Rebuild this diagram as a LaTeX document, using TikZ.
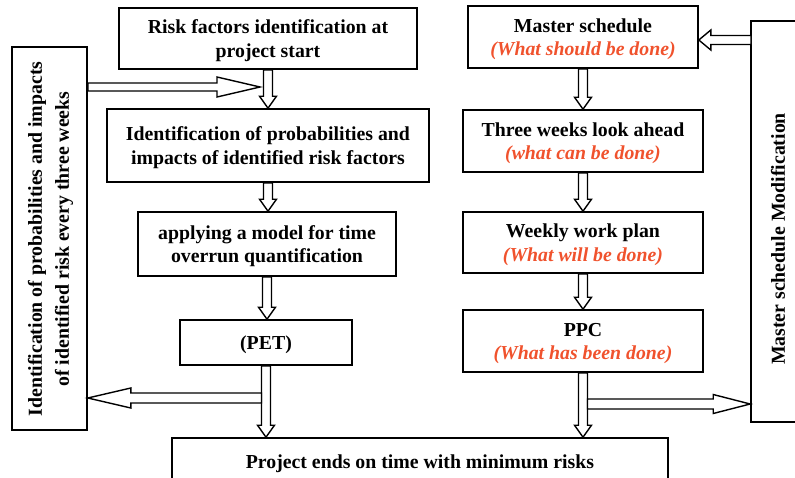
\documentclass[tikz,border=0pt]{standalone}
\usepackage{fontspec}
\setmainfont{Liberation Serif}
\usetikzlibrary{calc}
\definecolor{hlred}{RGB}{240,82,45}
\tikzset{
  box/.style={draw, line width=1.6pt, inner sep=0pt, align=center,
    font=\fontsize{19.8}{23.5}\selectfont\bfseries},
  txt/.style={inner sep=0pt, align=center,
    font=\fontsize{19.8}{27}\selectfont\bfseries},
  barrow/.style={draw, fill=white, line width=1.4pt, line join=miter},
}
\newcommand\red[1]{{\color{hlred}\itshape #1}}
\newcommand\lns[1]{\raisebox{-2.5pt}[\height][\depth]{\begin{tabular}{@{}c@{}}#1\end{tabular}}}
% vertical block arrow pointing down, from #1 to #2
\newcommand\vblock[2]{%
  \draw[barrow] let \p1=(#1), \p2=(#2) in
    (\x1-4.5pt,\y1) -- (\x1-4.5pt,\y2+12pt) -- (\x1-8.5pt,\y2+12pt) -- (\x1,\y2)
    -- (\x1+8.5pt,\y2+12pt) -- (\x1+4.5pt,\y2+12pt) -- (\x1+4.5pt,\y1) -- cycle;}
% horizontal block arrow: #1 start, #2 tip, #3 shaft half, #4 head half, #5 signed head length
\newcommand\hblock[5]{%
  \draw[barrow] let \p1=(#1), \p2=(#2) in
    (\x1,{\y1-#3}) -- ({\x2-(#5)},{\y1-#3}) -- ({\x2-(#5)},{\y1-#4}) -- (\x2,\y1)
    -- ({\x2-(#5)},{\y1+#4}) -- ({\x2-(#5)},{\y1+#3}) -- (\x1,{\y1+#3}) -- cycle;}
\begin{document}
\begin{tikzpicture}[x=1pt,y=-1pt]
\useasboundingbox (0,0) rectangle (795,477);
% left column
\node[box, minimum width=298pt, minimum height=61pt] (risk) at (268,38.5)
  {\lns{Risk factors identification at\\project start}};
\node[box, minimum width=322pt, minimum height=73pt] (prob) at (268,145.5)
  {\lns{Identification of probabilities and\\impacts of identified risk factors}};
\node[box, minimum width=258pt, minimum height=64pt] (model) at (267,244)
  {\lns{applying a model for time\\overrun quantification}};
\node[box, minimum width=172pt, minimum height=45pt] (pet) at (266,342.5) {\lns{(PET)}};
\node[box, minimum width=496pt, minimum height=46pt] (proj) at (420,461)
  {\lns{Project ends on time with minimum risks}};
% right column
\node[box, minimum width=230pt, minimum height=62pt] (master) at (583,37)
  {\lns{Master schedule\\\red{(What should be done)}}};
\node[box, minimum width=240pt, minimum height=62pt] (look) at (583,141)
  {\lns{Three weeks look ahead\\\red{(what can be done)}}};
\node[box, minimum width=240pt, minimum height=61pt] (weekly) at (583,242.5)
  {\lns{Weekly work plan\\\red{(What will be done)}}};
\node[box, minimum width=240pt, minimum height=62pt] (ppc) at (583,341)
  {\lns{PPC\\\red{(What has been done)}}};
% side boxes
\node[box, minimum width=75pt, minimum height=383pt] (lbox) at (49.5,238.5) {};
\node[txt, rotate=90] (ltxt) at (50.5,239)
  {Identification of probabilities and impacts\\of identified risk every three weeks};
\node[box, minimum width=79pt, minimum height=401pt] (rbox) at (790.5,221.5) {};
\node[txt, rotate=90] (rtxt) at (778,239) {Master schedule Modification};
% vertical arrows
\vblock{risk.south}{risk.south |- prob.north}
\vblock{prob.south}{prob.south |- model.north}
\vblock{model.south}{model.south |- pet.north}
\vblock{pet.south}{pet.south |- proj.north}
\vblock{master.south}{master.south |- look.north}
\vblock{look.south}{look.south |- weekly.north}
\vblock{weekly.south}{weekly.south |- ppc.north}
\vblock{ppc.south}{ppc.south |- proj.north}
% horizontal arrows
\coordinate (tipA) at (260,87);
\hblock{lbox.east |- tipA}{tipA}{4pt}{10pt}{43pt}
\coordinate (splitL) at (261.5,398);
\hblock{splitL}{lbox.east |- splitL}{5pt}{10pt}{-43pt}
\coordinate (splitR) at (587.5,404);
\hblock{splitR}{rbox.west |- splitR}{5pt}{9.5pt}{37pt}
\coordinate (mArr) at (751,40);
\hblock{mArr}{master.east |- mArr}{4.5pt}{10pt}{-12pt}
\end{tikzpicture}
\end{document}
